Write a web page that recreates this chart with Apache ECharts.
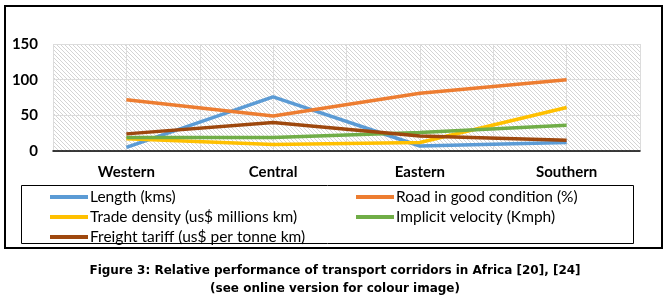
<!DOCTYPE html>
<html>
<head>
<meta charset="utf-8">
<script src="https://cdn.jsdelivr.net/npm/echarts@6/dist/echarts.min.js"></script>
<style>
html,body{margin:0;padding:0;background:#fff;}
#tu_1{width:670px;height:302px;}
</style>
</head>
<body>
<div id="tu_1"></div>
<script>
var corridors = ['Western', 'Central', 'Eastern', 'Southern'];
var lengthKms = [5, 76, 7, 12];
var roadGood = [72, 49, 81, 100];
var tradeDensity = [17, 9, 12, 61];
var velocity = [19, 19, 26, 36];
var freightTariff = [24, 40, 21, 15];
var yTicks = [0, 50, 100, 150];

var names = ['Length (kms)', 'Road in good condition (%)', 'Trade density (us$ millions km)', 'Implicit velocity (Kmph)', 'Freight tariff (us$ per tonne km)'];
var colors = ['#5B9BD5', '#ED7D31', '#FFC000', '#70AD47', '#9E480E'];
var values = [lengthKms, roadGood, tradeDensity, velocity, freightTariff];

// hatch background for the plot area
var hatch = document.createElement('canvas');
hatch.width = 4; hatch.height = 4;
var hc = hatch.getContext('2d');
hc.fillStyle = '#ffffff';
hc.fillRect(0, 0, 4, 4);
hc.fillStyle = '#d4d4d4';
for (var i = 0; i < 4; i++) { hc.fillRect(i, i, 1, 1); }

var myChart_1 = echarts.init(document.getElementById('tu_1'));

var series = [];
for (var k = 0; k < names.length; k++) {
	series.push({
		name: names[k],
		type: 'line',
		xAxisIndex: 0,
		data: values[k],
		symbol: 'none',
		lineStyle: {width: 3.5, color: colors[k]},
		itemStyle: {color: colors[k]},
		z: 3
	});
}

var legendCommon = {
	orient: 'vertical',
	icon: 'rect',
	itemWidth: 38,
	itemHeight: 4,
	itemGap: 0,
	padding: 0,
	selectedMode: false,
	textStyle: {fontFamily: 'Lato', fontSize: 15.5, color: '#000', lineHeight: 20, padding: [0, 0, 0, -3]}
};

var option = {
	animation: false,
	title: {
		text: 'Figure 3: Relative performance of transport corridors in Africa [20], [24]\n(see online version for colour image)',
		left: 'center',
		top: 262,
		padding: 0,
		textStyle: {fontFamily: 'DejaVu Sans', fontWeight: 'bold', fontSize: 12, color: '#000', lineHeight: 18}
	},
	legend: [
		Object.assign({}, legendCommon, {left: 50, top: 187, data: [names[0], names[2], names[4]]}),
		Object.assign({}, legendCommon, {left: 356, top: 187, data: [names[1], names[3]]})
	],
	grid: {
		left: 53, right: 30, top: 44, bottom: 151,
		show: true,
		borderWidth: 0,
		backgroundColor: {image: hatch, repeat: 'repeat'}
	},
	xAxis: [
		{
			type: 'category',
			data: corridors,
			boundaryGap: true,
			axisLine: {lineStyle: {color: '#000', width: 1.5}},
			axisTick: {show: false},
			splitLine: {show: false},
			axisLabel: {fontFamily: 'Lato', fontWeight: 'bold', fontSize: 15, color: '#000', margin: 14}
		},
		{
			// half-band lines seen in the reference
			type: 'category',
			data: ['', '', '', '', '', '', '', ''],
			boundaryGap: true,
			position: 'bottom',
			axisLine: {show: false},
			axisTick: {show: false},
			axisLabel: {show: false},
			splitLine: {show: true, interval: 0, lineStyle: {color: '#dcdcdc', width: 1}}
		}
	],
	yAxis: {
		type: 'value',
		min: yTicks[0],
		max: yTicks[yTicks.length - 1],
		interval: 50,
		axisLine: {show: false},
		axisTick: {show: false},
		splitLine: {lineStyle: {color: '#dcdcdc', width: 1}},
		axisLabel: {fontFamily: 'Lato', fontWeight: 'bold', fontSize: 15, color: '#000', margin: 15}
	},
	graphic: [
		{type: 'rect', shape: {x: 5, y: 6, width: 657, height: 242}, style: {fill: 'none', stroke: '#000', lineWidth: 2}, z: 0, silent: true},
		{type: 'rect', shape: {x: 21.5, y: 185.5, width: 612, height: 58}, style: {fill: 'none', stroke: '#000', lineWidth: 1}, z: 0, silent: true}
	],
	series: series
};
myChart_1.setOption(option);
</script>
</body>
</html>
